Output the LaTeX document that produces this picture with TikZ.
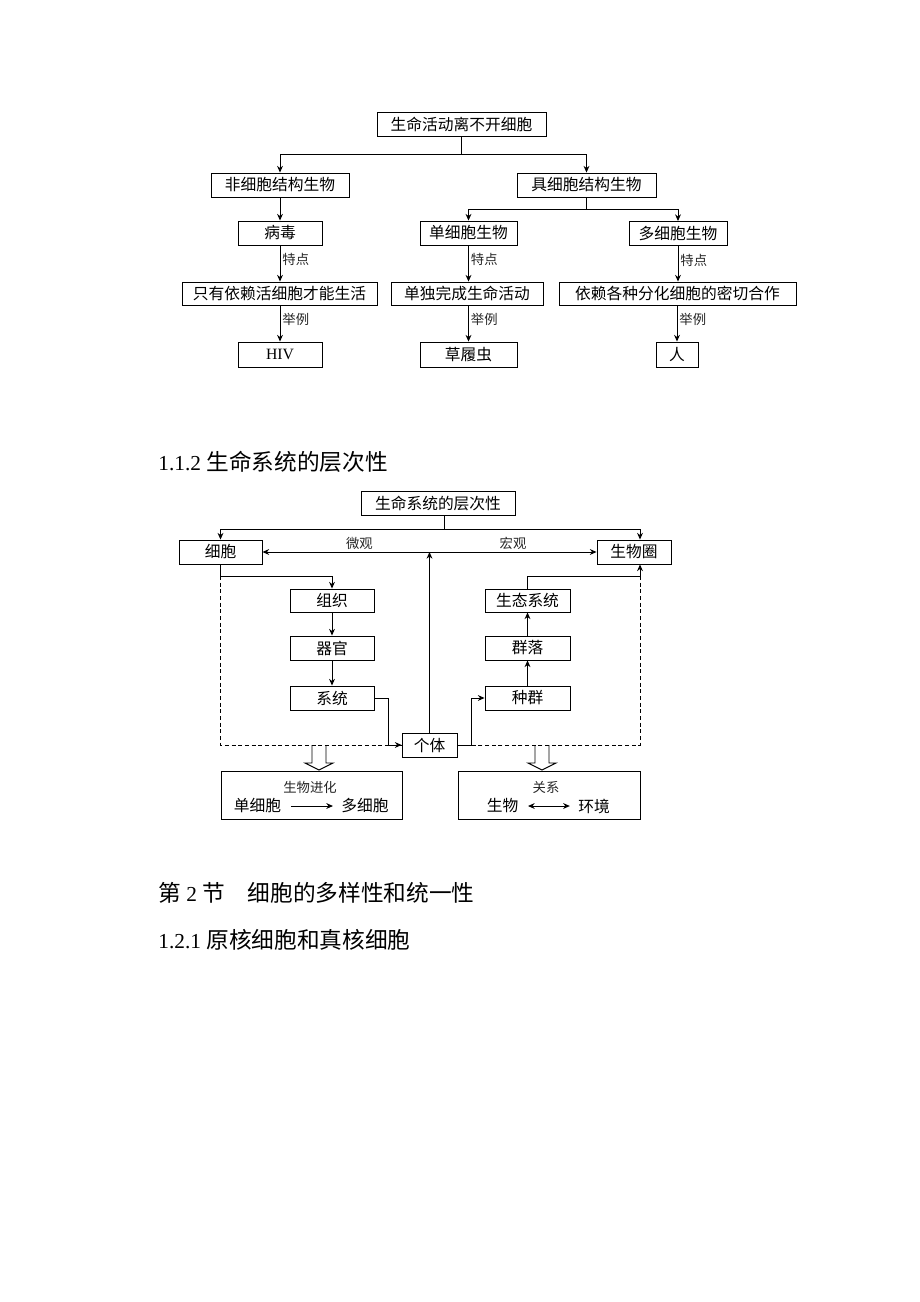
\documentclass[tikz,border=0pt]{standalone}
\usepackage{fontspec}
\setmainfont{Liberation Serif}
\newfontfamily\cjk{Noto Sans CJK SC}
\usetikzlibrary{arrows.meta,positioning}

\begin{document}
\begin{tikzpicture}[x=0.75pt,y=-0.75pt,>={Stealth[length=5pt,width=4.4pt]},line width=0.7pt,
    sz/.style 2 args={minimum width=#1*0.75pt,minimum height=#2*0.75pt},
    box/.style={draw,inner sep=0pt,font=\cjk\fontsize{11.8}{13}\selectfont},
    note/.style={font=\cjk\fontsize{10}{11}\selectfont,inner sep=1.5pt,text=black!85},
    plain/.style={inner sep=0pt,font=\cjk\fontsize{11.8}{13}\selectfont},
    heading/.style={anchor=west,inner sep=0pt,font=\fontsize{16}{18}\selectfont}]

    \useasboundingbox (0,0) rectangle (920,1302);
    \fill [white] (0,0) rectangle (920,1302);

    % Chart 1: life and cells
    \node [box,sz={169}{24}] (life) at (461.5,124) {生命活动离不开细胞};
    \node [box,sz={138}{24}] (acell) at (280,185) {非细胞结构生物};
    \node [box,sz={139}{24}] (wcell) at (586.5,185) {具细胞结构生物};
    \node [box,sz={84}{24}] (virus) at (280,233) {病毒};
    \node [box,sz={97}{24}] (uni) at (468.5,233) {单细胞生物};
    \node [box,sz={98}{24}] (multi) at (678,233.5) {多细胞生物};
    \node [box,sz={195}{23}] (virusft) at (279.5,293.5) {只有依赖活细胞才能生活};
    \node [box,sz={152}{23}] (unift) at (467,293.5) {单独完成生命活动};
    \node [box,sz={237}{23}] (multift) at (677.5,293.5) {依赖各种分化细胞的密切合作};
    \node [box,sz={84}{25}] (hiv) at (280,354.5) {\rmfamily HIV};
    \node [box,sz={97}{25}] (para) at (468.5,354.5) {草履虫};
    \node [box,sz={42}{25}] (man) at (677,354.5) {人};

    \coordinate (fork1) at (461.5,154);
    \coordinate (fork2) at (586.5,209);
    \draw (life) -- (fork1);
    \draw [->] (fork1) -| (acell);
    \draw [->] (fork1) -| (wcell);
    \draw [->] (acell) -- (virus);
    \draw (wcell) -- (fork2);
    \draw [->] (fork2) -| (uni);
    \draw [->] (fork2) -| (multi);

    % features and examples
    \draw [->] (virus.south) -- node [note,right,pos=.4] {特点} (virus.south |- virusft.north);
    \draw [->] (uni.south) -- node [note,right,pos=.4] {特点} (uni.south |- unift.north);
    \draw [->] (multi.south) -- node [note,right,pos=.4] {特点} (multi.south |- multift.north);
    \draw [->] (virusft.south -| hiv) -- node [note,right,pos=.4] {举例} (hiv);
    \draw [->] (unift.south -| para) -- node [note,right,pos=.4] {举例} (para);
    \draw [->] (multift.south -| man) -- node [note,right,pos=.4] {举例} (man);

    % Heading
    \node [heading] (h112) at (158,462) {1.1.2 {\cjk\fontsize{17}{19}\selectfont 生命系统的层次性}};

    % Chart 2: levels of living systems
    \node [box,sz={154}{24}] (levels) at (438,503) {生命系统的层次性};
    \node [box,sz={83}{24}] (cell) at (220.5,552) {细胞};
    \node [box,sz={74}{24}] (bios) at (634,552) {生物圈};
    \node [box,sz={84}{23}] (tissue) at (332,600.5) {组织};
    \node [box,sz={84}{24}] (organ) at (332,648) {器官};
    \node [box,sz={84}{24}] (system) at (332,698) {系统};
    \node [box,sz={55}{24}] (indiv) at (429.5,745) {个体};
    \node [box,sz={85}{24}] (popu) at (527.5,698) {种群};
    \node [box,sz={85}{24}] (commu) at (527.5,648) {群落};
    \node [box,sz={85}{23}] (eco) at (527.5,600.5) {生态系统};

    \coordinate (fork3) at (444,529);
    \coordinate (biosin) at ([xshift=4.5pt]bios.north);
    \coordinate (biosout) at ([xshift=4.5pt]bios.south);
    \coordinate (lturn) at (220.5,576);
    \coordinate (rturn) at (640,576);
    \coordinate (lbot) at (220.5,745);
    \coordinate (rbot) at (640,745);

    % dashed frame
    \draw [dashed,dash pattern=on 3pt off 2pt] (lturn) -- (lbot) -- (indiv.west);
    \draw [dashed,dash pattern=on 3pt off 2pt] (rturn) -- (rbot) -- (indiv.east);

    \draw (levels.south -| fork3) -- (fork3);
    \draw [->] (fork3) -| (cell);
    \draw [->] (fork3) -| (biosin);
    \draw [<->] (cell) -- node [note,above,pos=.29] {微观} node [note,above,pos=.75] {宏观} (bios);
    \draw [->] (indiv) -- (indiv |- cell.east);

    \draw (cell) -- (lturn);
    \draw [->] (lturn) -| (tissue);
    \draw [->] (tissue) -- (organ);
    \draw [->] (organ) -- (system);
    \draw [->] (system.east) -- ++(13.7,0) |- (indiv.west);
    \draw [->] (indiv.east) -- ++(14,0) |- (popu.west);
    \draw [->] (popu) -- (commu);
    \draw [->] (commu) -- (eco);
    \draw [->] (eco) |- (rturn) -- (biosout);

    % hollow arrows
    \draw (312,745) -- (312,763) -- (305,763) -- (319,770) -- (333,763) -- (326,763) -- (326,745);
    \draw (535,745) -- (535,763) -- (528,763) -- (542,770) -- (556,763) -- (549,763) -- (549,745);

    % result boxes
    \node [box,sz={181}{48}] (evo) at (311.5,795) {};
    \node [note] (evot) at (310,787) {生物进化};
    \node [plain] (uni2) at (257.5,806) {单细胞};
    \node [plain] (multi2) at (365,806) {多细胞};
    \draw [->,shorten <=7pt,shorten >=6pt] (uni2) -- (multi2);

    \node [box,sz={182}{48}] (rel) at (549,795) {};
    \node [note] (relt) at (546,787) {关系};
    \node [plain] (org) at (502.5,806) {生物};
    \node [plain] (env) at (594,806) {环境};
    \draw [<->,shorten <=7pt,shorten >=6pt] (org) -- (env);

    % Section headings
    \node [heading] (sec2) at (158,893) {{\cjk\fontsize{17}{19}\selectfont 第} 2 {\cjk\fontsize{17}{19}\selectfont 节　细胞的多样性和统一性}};
    \node [heading] (h121) at (158,940) {1.2.1 {\cjk\fontsize{17}{19}\selectfont 原核细胞和真核细胞}};

\end{tikzpicture}
\end{document}
